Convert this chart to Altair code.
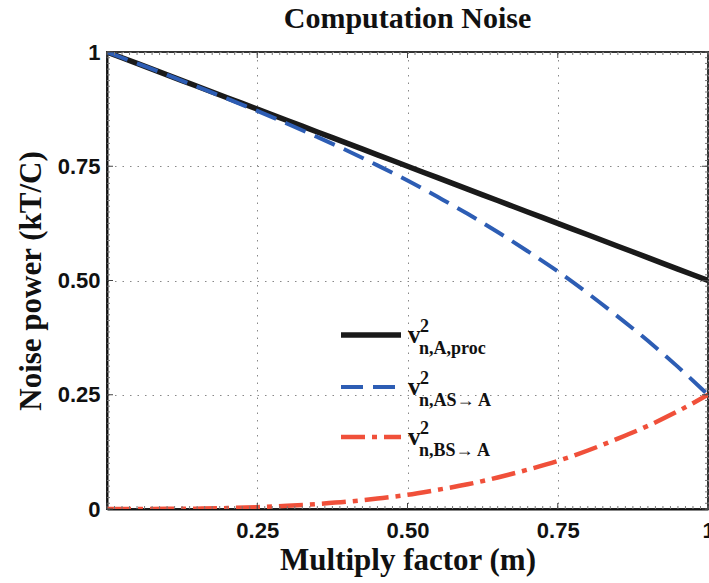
import altair as alt
import pandas as pd
import numpy as np

# ---- data ----
m_vals = [0.0, 0.05, 0.10, 0.15, 0.20, 0.25, 0.30, 0.35, 0.40, 0.45, 0.50,
          0.55, 0.60, 0.65, 0.70, 0.75, 0.80, 0.85, 0.90, 0.95, 1.0]
v_proc = [1.0, 0.975, 0.95, 0.925, 0.9, 0.875, 0.85, 0.825, 0.8, 0.775, 0.75,
          0.725, 0.7, 0.675, 0.65, 0.625, 0.6, 0.575, 0.55, 0.525, 0.5]
v_as = [1.0, 0.975, 0.95, 0.924, 0.898, 0.871, 0.843, 0.814, 0.784, 0.752, 0.719,
        0.683, 0.646, 0.606, 0.564, 0.52, 0.472, 0.421, 0.368, 0.311, 0.25]
v_bs = [0.0, 0.0001, 0.0003, 0.0008, 0.002, 0.004, 0.007, 0.011, 0.016, 0.023, 0.031,
        0.042, 0.054, 0.069, 0.086, 0.105, 0.128, 0.154, 0.182, 0.214, 0.25]
major_ticks = [0, 0.25, 0.5, 0.75, 1]
series_sub = ["n,A,proc", "n,AS\u2192 A", "n,BS\u2192 A"]

W, H = 601, 457
SERIF = "Liberation Serif"
SANS = "Liberation Sans"

c_black = "#1a1a1a"
c_blue = "#2d5db4"
c_red = "#f0503a"

xscale = alt.Scale(domain=[0, 1], nice=False, zero=False)
yscale = alt.Scale(domain=[0, 1], nice=False, zero=False)

xaxis = alt.Axis(values=major_ticks, title="Multiply factor (m)",
                 labelExpr="datum.value == 0 ? '' : (datum.value == 1 ? '1' : format(datum.value, '.2f'))",
                 labelFont=SANS, labelFontSize=22, labelFontWeight="bold", labelColor="#111",
                 labelPadding=11, labelFlush=False, labelOverlap=False,
                 titleFont=SERIF, titleFontSize=31, titleFontWeight="bold", titleColor="#111",
                 titlePadding=4, ticks=False, grid=True, gridDash=[1.5, 6], gridColor="#888",
                 gridWidth=1, domainColor="#111", domainWidth=2)
yaxis = alt.Axis(values=major_ticks, title="Noise power (kT/C)",
                 labelExpr="datum.value == 0 ? '0' : (datum.value == 1 ? '1' : format(datum.value, '.2f'))",
                 labelFont=SANS, labelFontSize=22, labelFontWeight="bold", labelColor="#111",
                 labelPadding=7, labelFlush=False, labelOverlap=False,
                 titleFont=SERIF, titleFontSize=31, titleFontWeight="bold", titleColor="#111",
                 titlePadding=10, ticks=False, grid=True, gridDash=[1.5, 6], gridColor="#888",
                 gridWidth=1, domainColor="#111", domainWidth=2)

X = alt.X("m:Q", scale=xscale, axis=xaxis)
Y = alt.Y("v:Q", scale=yscale, axis=yaxis)

def line(vals, color, width, dash=None):
    df = pd.DataFrame({"m": m_vals, "v": vals})
    kw = dict(color=color, strokeWidth=width, interpolate="monotone", strokeCap="butt", clip=True)
    if dash:
        kw["strokeDash"] = dash
    return alt.Chart(df).mark_line(**kw).encode(x=X, y=Y)

blue_dash = [22, 10]
red_dash = [24, 7, 5, 7]

l_proc = line(v_proc, c_black, 5.5)
l_as = line(v_as, c_blue, 4, blue_dash)
l_bs = line(v_bs, c_red, 4.5, red_dash)

# inner ticks (MATLAB style)
minor = [round(v, 4) for v in np.arange(0, 1.0001, 0.0125)]
tick_df = pd.DataFrame({"m": minor, "v": minor})
maj_df = pd.DataFrame({"m": major_ticks, "v": major_ticks})

def ticks(df, length, color):
    base = alt.Chart(df).mark_rule(color=color, strokeWidth=1)
    return [
        base.encode(x=X, y=alt.value(H), y2=alt.value(H - length)),
        base.encode(x=X, y=alt.value(0), y2=alt.value(length)),
        base.encode(y=Y, x=alt.value(0), x2=alt.value(length)),
        base.encode(y=Y, x=alt.value(W), x2=alt.value(W - length)),
    ]

tick_layers = ticks(tick_df, 3, "#777") + ticks(maj_df, 6, "#444")

# custom legend
legend_layers = []
row_y = [283, 335, 385]
styles = [(c_black, 5.5, None), (c_blue, 4, blue_dash), (c_red, 4.5, red_dash)]
dummy = pd.DataFrame({"d": [0]})
for i, (col, w, dash) in enumerate(styles):
    ry = row_y[i]
    kw = dict(color=col, strokeWidth=w, strokeCap="butt")
    if dash:
        kw["strokeDash"] = dash
    legend_layers.append(alt.Chart(dummy).mark_rule(**kw).encode(
        x=alt.value(234), x2=alt.value(294), y=alt.value(ry)))
    for txt, dx, dy, fs in [("v", 67, 8, 25), ("2", 79, -3, 18), (series_sub[i], 78, 19, 18)]:
        legend_layers.append(
            alt.Chart(pd.DataFrame({"t": [txt]})).mark_text(
                align="left", baseline="alphabetic", font=SERIF, fontSize=fs,
                fontWeight="bold", color="#111").encode(
                x=alt.value(234 + dx), y=alt.value(ry + dy), text="t:N"))

chart = alt.layer(l_proc, l_as, l_bs, *tick_layers, *legend_layers).properties(
    width=W, height=H,
    title=alt.TitleParams("Computation Noise", font=SERIF, fontSize=30, fontWeight="bold",
                          color="#111", anchor="middle", offset=7),
    autosize=alt.AutoSizeParams(type="none"),
    padding={"left": 107, "top": 52, "right": 1, "bottom": 74},
).configure_view(stroke="#333", strokeWidth=2)

chart.save("out.html", embed_options={"renderer": "svg", "actions": False})
